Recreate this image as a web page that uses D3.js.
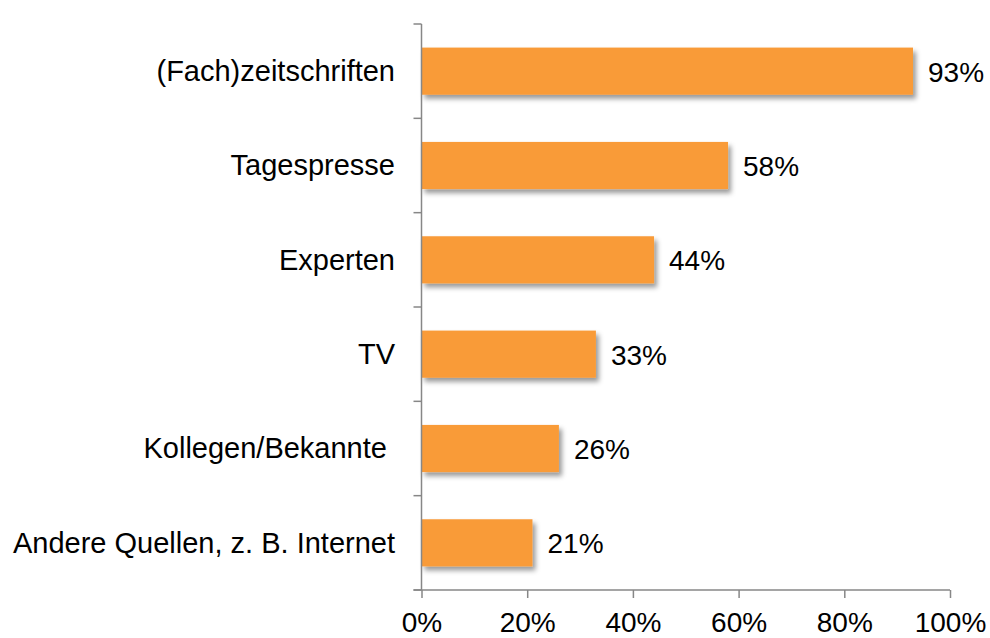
<!DOCTYPE html>
<html>
<head>
<meta charset="utf-8">
<script src="https://cdn.jsdelivr.net/npm/d3@7"></script>
<style>
  body { margin: 0; background: #fff; }
  text { font-family: "Liberation Sans", Arial, sans-serif; fill: #000; }
</style>
</head>
<body>
<svg width="990" height="638"></svg>
<script>
// chart values
var categories = [
  "(Fach)zeitschriften",
  "Tagespresse",
  "Experten",
  "TV",
  "Kollegen/Bekannte ",
  "Andere Quellen, z. B. Internet"
];
var values = [0.93, 0.58, 0.44, 0.33, 0.26, 0.21];
var xTicks = [0, 0.2, 0.4, 0.6, 0.8, 1];

var width = 990;
var height = 638;
var plotLeft = 421.5, plotRight = 950, plotTop = 24, plotBottom = 590;
var catFontSize = 29;
var fontSize = 28;
var axisColor = "#878787";
var barColor = "#F99B38";

var svg = d3.select("svg")
  .attr("width", width)
  .attr("height", height);

var defs = svg.append("defs");
var shadow = defs.append("filter")
  .attr("id", "shadow")
  .attr("x", "-10%").attr("y", "-30%")
  .attr("width", "130%").attr("height", "180%");
shadow.append("feDropShadow")
  .attr("dx", 3).attr("dy", 4)
  .attr("stdDeviation", 2.5)
  .attr("flood-color", "#000")
  .attr("flood-opacity", 0.4);

var x = d3.scaleLinear().domain([0, 1]).range([plotLeft, plotRight]);
var y = d3.scaleBand().domain(categories)
  .range([plotTop, plotBottom])
  .paddingInner(0.5)
  .paddingOuter(0.25);

var data = categories.map((c, i) => ({cat: c, value: values[i]}));

// bars
svg.append("g")
  .selectAll("rect")
  .data(data)
  .enter()
  .append("rect")
  .attr("x", x(0))
  .attr("y", d => y(d.cat))
  .attr("width", d => x(d.value) - x(0))
  .attr("height", y.bandwidth())
  .attr("fill", barColor)
  .attr("filter", "url(#shadow)");

// value labels
svg.append("g")
  .selectAll("text")
  .data(data)
  .enter()
  .append("text")
  .attr("x", d => x(d.value) + 15)
  .attr("y", d => y(d.cat) + y.bandwidth() / 2)
  .attr("dy", "0.38em")
  .attr("font-size", fontSize)
  .text(d => Math.round(d.value * 100) + "%");

// y axis line and ticks between categories
var yAxis = svg.append("g");
yAxis.append("line")
  .attr("x1", plotLeft).attr("x2", plotLeft)
  .attr("y1", plotTop).attr("y2", plotBottom)
  .attr("stroke", axisColor).attr("stroke-width", 1.5);
var bounds = d3.range(categories.length + 1).map(i => plotTop + i * y.step());
yAxis.selectAll(".tick")
  .data(bounds)
  .enter()
  .append("line")
  .attr("x1", plotLeft - 8).attr("x2", plotLeft)
  .attr("y1", d => d).attr("y2", d => d)
  .attr("stroke", axisColor).attr("stroke-width", 1.5);

// category labels
svg.append("g")
  .selectAll("text")
  .data(data)
  .enter()
  .append("text")
  .attr("x", 395)
  .attr("y", d => y(d.cat) + y.bandwidth() / 2)
  .attr("dy", "0.34em")
  .attr("text-anchor", "end")
  .attr("font-size", catFontSize)
  .style("white-space", "pre")
  .text(d => d.cat);

// x axis
var xAxis = svg.append("g")
  .attr("transform", "translate(0," + plotBottom + ")")
  .call(d3.axisBottom(x)
    .tickValues(xTicks)
    .tickFormat(d3.format(".0%"))
    .tickSize(8)
    .tickSizeOuter(0)
    .tickPadding(14));
xAxis.select(".domain").remove();
xAxis.append("line")
  .attr("x1", plotLeft - 8).attr("x2", plotRight)
  .attr("stroke", axisColor).attr("stroke-width", 1.5);
xAxis.selectAll(".tick line").attr("stroke", axisColor).attr("stroke-width", 1.5);
xAxis.selectAll(".tick text")
  .attr("font-size", fontSize)
  .attr("font-family", "Liberation Sans, Arial, sans-serif")
  .attr("fill", "#000");
</script>
</body>
</html>
